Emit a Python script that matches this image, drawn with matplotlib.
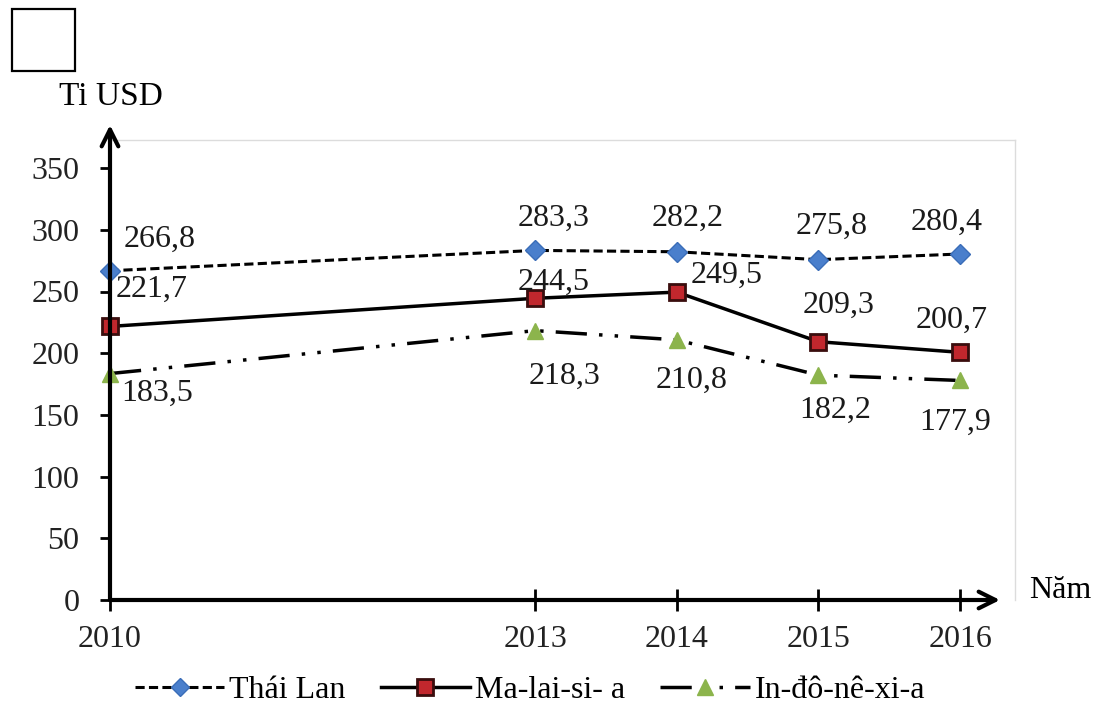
import matplotlib
matplotlib.use("Agg")
import matplotlib.pyplot as plt
from matplotlib.lines import Line2D
from matplotlib.patches import Rectangle

plt.rcParams['font.family'] = ['Liberation Serif', 'DejaVu Serif']

years = [2010, 2013, 2014, 2015, 2016]
thai = [266.8, 283.3, 282.2, 275.8, 280.4]
malay = [221.7, 244.5, 249.5, 209.3, 200.7]
indo = [183.5, 218.3, 210.8, 182.2, 177.9]
y_ticks = [0, 50, 100, 150, 200, 250, 300, 350]
names = ['Thái Lan', 'Ma-lai-si- a', 'In-đô-nê-xi-a']

# label offsets in pixels for each point
thai_off = [(50, 31), (19, 32), (11, 33), (13, 33), (-14, 32)]
malay_off = [(42, 37), (19, 16), (50, 17), (20, 36), (-9, 32)]
indo_off = [(47, -20), (29, -46), (15, -40), (17, -35), (-5, -42)]

W, H = 1097, 718
fig = plt.figure(figsize=(W / 100, H / 100), dpi=100)
ax = fig.add_axes([110 / W, 1 - 600 / H, 905 / W, 460 / H])

ax.set_xlim(2010, 2010 + 905 / 141.7)
ax.set_ylim(0, 460 / 1.234)

thai_ls = (0, (3, 1.4))
indo_ls = (0, (9, 3.5, 1, 3.5, 1, 3.5))

ax.plot(years, thai, ls=thai_ls, lw=2.2, color='black', marker='D',
        ms=10, mfc='#4a7fcc', mec='#3a6db8', zorder=3, clip_on=False)
ax.plot(years, malay, ls='-', lw=2.5, color='black', marker='s',
        ms=12, mfc='#c1272d', mec='#3a0d0d', mew=2, zorder=3, clip_on=False)
ax.plot(years, indo, ls=indo_ls, lw=2.5, color='black', marker='^',
        ms=12, mfc='#8cb44c', mec='#8cb44c', zorder=3, clip_on=False)

for vals, offs in ((thai, thai_off), (malay, malay_off), (indo, indo_off)):
    for x, v, off in zip(years, vals, offs):
        ax.annotate(f'{v:.1f}'.replace('.', ','), (x, v), xytext=off,
                    textcoords='offset pixels', ha='center', va='center',
                    fontsize=23, color='#1a1a1a', annotation_clip=False)

for s in ('left', 'bottom'):
    ax.spines[s].set_visible(False)
for s in ('top', 'right'):
    ax.spines[s].set_color('#dcdcdc')
    ax.spines[s].set_linewidth(1)

# axes with arrow heads
ax.annotate('', xy=(2010 + 890 / 141.7, 0), xytext=(2010, 0),
            arrowprops=dict(arrowstyle='->', lw=3, color='black', mutation_scale=30,
                            shrinkA=0, shrinkB=0), annotation_clip=False, zorder=4)
ax.annotate('', xy=(2010, 475 / 1.234), xytext=(2010, 0),
            arrowprops=dict(arrowstyle='->', lw=3, color='black', mutation_scale=30,
                            shrinkA=0, shrinkB=0), annotation_clip=False, zorder=4)

ax.set_yticks(y_ticks)
ax.set_xticks(years)
ax.tick_params(axis='y', direction='out', length=7, width=2, pad=15, labelsize=23,
               colors='black', labelcolor='#222222')
ax.tick_params(axis='x', direction='inout', length=16, width=2, pad=10, labelsize=23,
               colors='black', labelcolor='#222222')

fig.text(111 / W, 1 - 97 / H, 'Ti USD', ha='center', va='center', fontsize=24)
fig.text(1060 / W, 1 - 590 / H, 'Năm', ha='center', va='center', fontsize=23)

fig.patches.append(Rectangle((12 / W, 1 - 71 / H), 63 / W, 62 / H, fill=False,
                             lw=1.6, ec='black', transform=fig.transFigure))

handles = [
    Line2D([], [], ls=thai_ls, lw=2.2, color='black', marker='D', ms=9,
           mfc='#4a7fcc', mec='#3a6db8'),
    Line2D([], [], ls='-', lw=2.5, color='black', marker='s', ms=11,
           mfc='#c1272d', mec='#3a0d0d', mew=2),
    Line2D([], [], ls=indo_ls, lw=2.5, color='black', marker='^', ms=11,
           mfc='#8cb44c', mec='#8cb44c'),
]
fig.legend(handles, names, loc='center', bbox_to_anchor=(530 / W, 1 - 690 / H), ncol=3,
           frameon=False, fontsize=23, handlelength=2.8, handletextpad=0.15,
           columnspacing=1.1)

fig.savefig('out.png', dpi=100)
